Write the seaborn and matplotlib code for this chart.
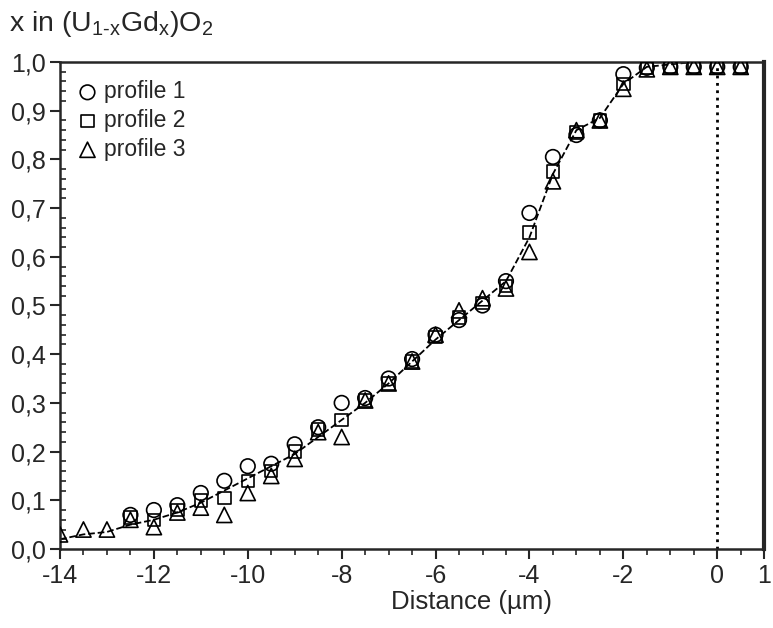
import numpy as np
import pandas as pd
import matplotlib
matplotlib.use("Agg")
import matplotlib.pyplot as plt
import seaborn as sns
from matplotlib.ticker import FuncFormatter, MultipleLocator

sns.set_style("ticks")
plt.rcParams['font.family'] = ['Liberation Sans', 'DejaVu Sans']
plt.rcParams['mathtext.fontset'] = 'custom'
plt.rcParams['mathtext.rm'] = 'Liberation Sans'

# distance (um) for each profile point
x_p12 = [-12.5, -12, -11.5, -11, -10.5, -10, -9.5, -9, -8.5, -8, -7.5, -7, -6.5, -6,
         -5.5, -5, -4.5, -4, -3.5, -3, -2.5, -2, -1.5, -1, -0.5, 0, 0.5]
x_p3 = [-14, -13.5, -13] + x_p12

profile1 = [0.07, 0.08, 0.09, 0.115, 0.14, 0.17, 0.175, 0.215, 0.25, 0.30, 0.31, 0.35, 0.39, 0.44,
            0.47, 0.50, 0.55, 0.69, 0.805, 0.85, 0.88, 0.975, 0.988, 0.99, 0.99, 0.99, 0.99]
profile2 = [0.065, 0.06, 0.08, 0.10, 0.105, 0.14, 0.16, 0.20, 0.245, 0.265, 0.305, 0.34, 0.385, 0.435,
            0.475, 0.505, 0.54, 0.65, 0.775, 0.855, 0.88, 0.955, 0.988, 0.99, 0.99, 0.99, 0.99]
profile3 = [0.03, 0.04, 0.04,
            0.06, 0.045, 0.075, 0.085, 0.07, 0.115, 0.15, 0.185, 0.24, 0.23, 0.305, 0.34, 0.385, 0.44,
            0.49, 0.515, 0.535, 0.61, 0.755, 0.86, 0.88, 0.945, 0.985, 0.99, 0.99, 0.99, 0.99]

# dashed guide curve through the profiles
fit_x = [-14, -13.5, -13, -12.5, -12, -11.5, -11, -10.5, -10, -9.5, -9, -8.5, -8, -7.5, -7, -6.5,
         -6, -5.5, -5, -4.5, -4, -3.5, -3, -2.5, -2, -1.5, -1, -0.5, 0, 0.5]
fit_y = [0.02, 0.03, 0.035, 0.05, 0.06, 0.075, 0.095, 0.12, 0.145, 0.17, 0.195, 0.23, 0.265, 0.30,
         0.34, 0.385, 0.43, 0.47, 0.51, 0.55, 0.64, 0.77, 0.86, 0.885, 0.955, 0.99, 0.995, 1.0, 1.0, 1.0]

df = pd.concat([
    pd.DataFrame({'x': x_p12, 'y': profile1, 'profile': 'profile 1'}),
    pd.DataFrame({'x': x_p12, 'y': profile2, 'profile': 'profile 2'}),
    pd.DataFrame({'x': x_p3, 'y': profile3, 'profile': 'profile 3'}),
])
markers = {'profile 1': 'o', 'profile 2': 's', 'profile 3': '^'}
sizes = {'profile 1': 110, 'profile 2': 80, 'profile 3': 120}

fig = plt.figure(figsize=(7.73, 6.28), dpi=100)
ax = fig.add_axes([0.0776, 0.1258, 0.911, 0.7755])

sns.lineplot(x=fit_x, y=fit_y, ax=ax, color='black', linewidth=1.3, dashes=(5, 3), linestyle='--')
ax.axvline(0, color='black', linestyle=':', linewidth=2)

for name, grp in df.groupby('profile'):
    sns.scatterplot(data=grp, x='x', y='y', ax=ax, marker=markers[name], s=sizes[name],
                    facecolor='none', edgecolor='black', linewidth=1.2, label=name,
                    clip_on=True, zorder=3)

ax.set_xlim(-14, 1)
ax.set_ylim(0, 1.0)
ax.set_xticks([-14, -12, -10, -8, -6, -4, -2, 0, 1])
ax.set_yticks(np.arange(0, 1.01, 0.1))
ax.xaxis.set_minor_locator(MultipleLocator(0.5))
ax.yaxis.set_minor_locator(MultipleLocator(0.02))
ax.yaxis.set_major_formatter(FuncFormatter(lambda v, p: f"{v:.1f}".replace('.', ',')))
ax.xaxis.set_major_formatter(FuncFormatter(lambda v, p: f"{v:g}"))

ax.tick_params(axis='both', which='major', direction='out', length=7, width=1.5, labelsize=18)
ax.tick_params(axis='y', which='minor', direction='in', length=4, width=1.2)
ax.tick_params(axis='x', which='minor', direction='out', length=4, width=1.2)
for side in ['left', 'bottom', 'top']:
    ax.spines[side].set_linewidth(1.8)
ax.spines['right'].set_linewidth(3)

ax.set_xlabel('Distance (\u00b5m)', fontsize=18.5)
ax.xaxis.set_label_coords(0.585, -0.085)
ax.set_ylabel('')
fig.text(0.012, 0.962, r'x in (U$_{\mathregular{1\text{-}x}}$Gd$_{\mathregular{x}}$)O$_{\mathregular{2}}$',
         fontsize=20.5, ha='left', va='center')

ax.legend(loc='upper left', frameon=False, fontsize=16.5, handlelength=0.8, handletextpad=0.3,
          labelspacing=0.25, borderaxespad=0.4, bbox_to_anchor=(0.0, 1.0))

fig.savefig('out.png', dpi=100)
